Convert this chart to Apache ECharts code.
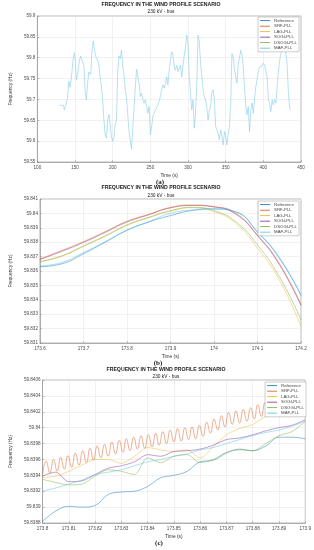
<!DOCTYPE html>
<html><head><meta charset="utf-8">
<script src="https://cdn.jsdelivr.net/npm/echarts@6/dist/echarts.min.js"></script>
<style>html,body{margin:0;padding:0;background:#fff}#c{width:314px;height:550px}</style>
</head><body><div id="c"></div>
<script>
const seriesNames = ['Reference','SRF-PLL','LAG-PLL','SOGI-PLL','DSOGI-PLL','MAF-PLL'];
const titleText = 'FREQUENCY IN THE WIND PROFILE SCENARIO';
const subText = '230 kV - bus';

// ---- panel (a)
const timeA = [129.6,134.6,135.8,137.5,140.0,141.7,143.3,145.0,147.5,149.2,150.4,151.7,153.3,155.8,157.5,159.6,161.7,163.3,165.0,166.7,168.3,170.8,172.5,174.2,175.8,177.5,180.0,181.7,183.3,185.0,186.7,188.3,190.0,191.7,193.3,195.0,196.7,198.3,200.0,201.7,203.3,205.0,206.7,208.3,210.0,211.7,213.3,215.0,216.7,218.3,220.0,221.7,223.3,225.0,226.7,228.3,230.0,231.7,233.3,235.0,236.7,238.3,240.0,241.7,243.3,245.0,246.7,248.3,250.0,251.7,253.3,255.0,256.7,258.3,260.0,261.7,263.3,265.0,266.7,268.3,270.0,271.7,273.3,275.0,276.7,278.3,280.0,281.7,283.3,285.0,286.7,288.3,290.0,291.7,293.3,295.0,296.7,298.3,300.0,301.7,303.3,305.0,306.7,308.3,310.0,311.7,313.3,315.0,316.7,318.3,320.0,321.7,323.3,325.0,326.7,328.3,330.0,331.7,333.3,335.0,336.7,338.3,340.0,341.7,343.3,345.0,346.7,348.3,350.0,351.7,353.3,355.0,356.7,358.3,360.0,361.7,363.3,365.0,366.7,368.3,370.0,371.7,373.3,375.0,376.7,378.3,380.0,381.7,383.3,385.0,386.7,388.3,390.0,391.7,393.3,395.0,396.7,398.3,400.0,401.7,403.3,405.0,406.7,408.3,410.0,411.7,413.3,415.0,416.7,418.3,420.0,421.7,423.3,425.0,426.7,428.3,430.0,431.7,433.3,435.0,436.3];
const freqA = [59.686,59.686,59.675,59.685,59.703,59.744,59.729,59.750,59.798,59.812,59.790,59.747,59.759,59.794,59.804,59.806,59.780,59.723,59.699,59.739,59.766,59.759,59.818,59.840,59.818,59.802,59.794,59.782,59.754,59.730,59.699,59.651,59.615,59.607,59.651,59.663,59.639,59.610,59.600,59.611,59.639,59.651,59.770,59.804,59.798,59.818,59.780,59.759,59.723,59.707,59.663,59.623,59.627,59.581,59.635,59.675,59.730,59.772,59.754,59.739,59.707,59.715,59.699,59.691,59.699,59.683,59.667,59.683,59.615,59.635,59.659,59.663,59.675,59.671,59.687,59.695,59.707,59.723,59.735,59.727,59.739,59.754,59.735,59.770,59.794,59.814,59.806,59.780,59.770,59.782,59.766,59.770,59.782,59.754,59.780,59.806,59.826,59.854,59.834,59.754,59.715,59.675,59.699,59.631,59.667,59.739,59.854,59.838,59.786,59.754,59.723,59.707,59.699,59.679,59.651,59.675,59.683,59.715,59.723,59.699,59.635,59.627,59.619,59.603,59.627,59.611,59.591,59.623,59.611,59.591,59.619,59.635,59.691,59.810,59.802,59.772,59.754,59.739,59.786,59.798,59.818,59.806,59.780,59.730,59.683,59.663,59.683,59.623,59.675,59.691,59.667,59.699,59.730,59.747,59.766,59.778,59.782,59.780,59.787,59.782,59.780,59.754,59.699,59.691,59.671,59.699,59.687,59.699,59.691,59.730,59.766,59.794,59.810,59.822,59.818,59.826,59.810,59.780,59.715,59.679,59.675];

// ---- panel (b)
const timeB = [173.6,173.65,173.7,173.75,173.8,173.85,173.9,173.95,174.0,174.05,174.1,174.15,174.2];
const refB  = [59.8363,59.8365,59.8372,59.8380,59.83882,59.8394,59.83985,59.8402,59.8403,59.8401,59.8387,59.8369,59.8343];
const srfB  = [59.83684,59.83742,59.83804,59.83874,59.83945,59.83994,59.84042,59.84058,59.84047,59.84001,59.8385,59.83654,59.83366];
const lagB  = [59.83663,59.83702,59.83771,59.83841,59.83917,59.8397,59.84016,59.84039,59.84012,59.83931,59.83758,59.83539,59.83216];
const sogiB = [59.8368,59.83736,59.83798,59.83868,59.8394,59.8399,59.84038,59.84055,59.84045,59.83995,59.83845,59.83645,59.8336];
const dsogiB= [59.83666,59.83705,59.83774,59.83844,59.8392,59.83973,59.84019,59.84042,59.84019,59.83943,59.83781,59.83562,59.83262];
const mafB  = [59.83636,59.83659,59.83728,59.83804,59.83885,59.83943,59.84001,59.84024,59.84035,59.84012,59.83874,59.83696,59.83435];

// ---- panel (c)
const timeC = [173.8,173.805,173.81,173.815,173.82,173.825,173.83,173.835,173.84,173.845,173.85,173.855,173.86,173.865,173.87,173.875,173.88,173.885,173.89,173.895,173.9];
const refC  = [59.83882,59.83895,59.83901,59.839,59.83902,59.83916,59.83919,59.8392,59.83926,59.83937,59.8394,59.83945,59.83957,59.83959,59.83968,59.83973,59.83971,59.83977,59.83988,59.83988,59.83986];
const lagC  = [59.83937,59.83939,59.83945,59.83953,59.8396,59.8396,59.83955,59.83964,59.83975,59.83972,59.8397,59.83972,59.83962,59.83976,59.83991,59.83999,59.84004,59.84014,59.84018,59.84016,59.84016];
const sogiC = [59.83939,59.83944,59.83932,59.83933,59.83941,59.83949,59.83952,59.83957,59.83966,59.83964,59.8397,59.83971,59.83973,59.83978,59.83985,59.83987,59.83991,59.83996,59.84,59.84003,59.8401];
const dsogiC= [59.83935,59.83931,59.83928,59.83929,59.83939,59.83947,59.83945,59.83941,59.83962,59.83956,59.83964,59.83966,59.83956,59.8396,59.83969,59.83972,59.83971,59.8398,59.8399,59.83995,59.84008];
const mafC  = [59.8392,59.83924,59.83929,59.83934,59.83941,59.83944,59.83947,59.83952,59.83957,59.8396,59.83964,59.83967,59.83972,59.83975,59.8398,59.83985,59.8399,59.83994,59.83997,59.84002,59.84008];
const timeSrfC = [173.8,173.8014,173.8028,173.8042,173.8056,173.8069,173.8083,173.8097,173.8111,173.8125,173.8139,173.8153,173.8167,173.8181,173.8194,173.8208,173.8222,173.8236,173.825,173.8264,173.8278,173.8292,173.8306,173.8319,173.8333,173.8347,173.8361,173.8375,173.8389,173.8403,173.8417,173.8431,173.8444,173.8458,173.8472,173.8486,173.85,173.8514,173.8528,173.8542,173.8556,173.8569,173.8583,173.8597,173.8611,173.8625,173.8639,173.8653,173.8667,173.8681,173.8694,173.8708,173.8722,173.8736,173.875,173.8764,173.8778,173.8792,173.8806,173.8819,173.8833,173.8847,173.8861,173.8875,173.8889,173.8903,173.8917,173.8931,173.8944,173.8958,173.8972,173.8986,173.9];
const srfC = [59.83941,59.83958,59.83943,59.8396,59.83945,59.83963,59.83948,59.83965,59.8395,59.83968,59.83953,59.83971,59.83956,59.83974,59.83959,59.83977,59.83962,59.83979,59.83964,59.83982,59.83967,59.83984,59.83969,59.83986,59.83971,59.83988,59.83973,59.8399,59.83974,59.83991,59.83976,59.83993,59.83978,59.83995,59.8398,59.83997,59.83982,59.83999,59.83983,59.84,59.83985,59.84001,59.83986,59.84003,59.83989,59.84007,59.83993,59.84011,59.83997,59.84015,59.84001,59.84019,59.84004,59.84021,59.84006,59.84023,59.84008,59.84025,59.84011,59.84029,59.84014,59.84032,59.84018,59.84036,59.84022,59.84039,59.84024,59.8404,59.84025,59.84041,59.84026,59.84042,59.84027];

const colors = {'Reference':'#0072BD','SRF-PLL':'#D95319','LAG-PLL':'#EDB120','SOGI-PLL':'#7E2F8E','DSOGI-PLL':'#77AC30','MAF-PLL':'#4DBEEE'};

function mk(name, xs, ys, gi, extra){
  const c = colors[name];
  return Object.assign({
    name, type:'line', xAxisIndex:gi, yAxisIndex:gi, symbol:'none', showSymbol:false,
    data: xs.map((x,i)=>[x, ys[i]]),
    lineStyle:{color:c, width:0.7, opacity:0.65}, itemStyle:{color:c}, animation:false
  }, extra||{});
}

const series = [];
// (a): on this time scale all estimates coincide; the top-most (MAF-PLL) trace is what is visible
series.push(mk('MAF-PLL', timeA, freqA, 0, {lineStyle:{color:'#86cbe9', width:0.6, opacity:1}}));
// (b)
series.push(mk('Reference', timeB, refB, 1, {smooth:true}));
series.push(mk('SOGI-PLL', timeB, sogiB, 1, {smooth:true}));
series.push(mk('SRF-PLL', timeB, srfB, 1, {smooth:true}));
series.push(mk('LAG-PLL', timeB, lagB, 1, {smooth:true}));
series.push(mk('DSOGI-PLL', timeB, dsogiB, 1, {smooth:true}));
series.push(mk('MAF-PLL', timeB, mafB, 1, {smooth:true}));
// (c)
series.push(mk('Reference', timeC, refC, 2, {smooth:0.4}));
series.push(mk('SRF-PLL', timeSrfC, srfC, 2, {smooth:0.5}));
series.push(mk('LAG-PLL', timeC, lagC, 2, {smooth:0.3}));
series.push(mk('SOGI-PLL', timeC, sogiC, 2, {smooth:0.3}));
series.push(mk('DSOGI-PLL', timeC, dsogiC, 2, {smooth:0.3}));
series.push(mk('MAF-PLL', timeC, mafC, 2, {smooth:0.3}));

const FONT = 'Liberation Sans, Arial, sans-serif';
const lbl = {fontSize:4.6, color:'#4a4a4a', fontFamily:FONT};
function xAx(gi, min, max, interval, dec, gap){
  return {gridIndex:gi, type:'value', min, max, interval,
    name:'Time (s)', nameLocation:'middle', nameGap:gap, nameTextStyle:{fontSize:4.8, color:'#333', fontFamily:FONT},
    axisLine:{show:true, lineStyle:{color:'#8a8a8a', width:0.6}},
    axisTick:{show:true, inside:true, length:2, lineStyle:{color:'#8a8a8a', width:0.5}},
    axisLabel:Object.assign({margin:3, formatter:v=>String(+v.toFixed(dec))}, lbl),
    splitLine:{show:true, lineStyle:{color:'#e3e3e3', width:0.5}}};
}
function yAx(gi, min, max, interval, dec, gap){
  return {gridIndex:gi, type:'value', min, max, interval,
    name:'Frequency (Hz)', nameLocation:'middle', nameGap:gap, nameTextStyle:{fontSize:4.8, color:'#333', fontFamily:FONT},
    axisLine:{show:true, lineStyle:{color:'#8a8a8a', width:0.6}},
    axisTick:{show:true, inside:true, length:2, lineStyle:{color:'#8a8a8a', width:0.5}},
    axisLabel:Object.assign({margin:2, formatter:v=>String(+v.toFixed(dec))}, lbl),
    splitLine:{show:true, lineStyle:{color:'#e3e3e3', width:0.5}}};
}
function leg(right, top){
  return {data:seriesNames, orient:'vertical', right, top, icon:'rect', itemWidth:10, itemHeight:0.8, itemGap:1.2,
    padding:[1.5,2,1.5,2], backgroundColor:'#fff', borderColor:'#9a9a9a', borderWidth:0.5,
    textStyle:{fontSize:4.3, lineHeight:4.3, color:'#444', fontFamily:FONT, padding:[0,0,0,-1]}, selectedMode:false};
}
function txt(x, y, s, size, bold, family){
  return {type:'text', x, y, style:{text:s, fill:'#222', font:(bold?'bold ':'')+size+'px '+(family||FONT), textAlign:'center', textVerticalAlign:'middle'}};
}

const option = {
  backgroundColor:'#fff', animation:false,
  grid:[
    {left:21, top:16, width:280, height:146, show:true, borderColor:'#8a8a8a', borderWidth:0.6},
    {left:21, top:199, width:280, height:144, show:true, borderColor:'#8a8a8a', borderWidth:0.6},
    {left:21, top:380, width:287, height:143, show:true, borderColor:'#8a8a8a', borderWidth:0.6}
  ],
  xAxis:[xAx(0,100,450,50,0,11), xAx(1,173.6,174.2,0.1,1,11), xAx(2,173.8,173.9,0.01,2,11)],
  yAxis:[yAx(0,59.55,59.9,0.05,3,16), yAx(1,59.831,59.841,0.001,4,16), yAx(2,59.8388,59.8406,0.0002,5,11)],
  legend:[leg(15,17), leg(15,201), leg(8,382)],
  graphic:[
    txt(161,5,titleText,5.2,true), txt(161,11.5,subText,4.8,false), txt(160,182.5,'(a)',7,true,'Liberation Serif, serif'),
    txt(161,187.5,titleText,5.2,true), txt(161,196,subText,4.8,false), txt(158,363,'(b)',7,true,'Liberation Serif, serif'),
    txt(166,370,titleText,5.2,true), txt(166,376.5,subText,4.8,false), txt(159,543,'(c)',7,true,'Liberation Serif, serif')
  ],
  series
};
const chart = echarts.init(document.getElementById('c'), null, {renderer:'canvas'});
chart.setOption(option);
</script></body></html>
